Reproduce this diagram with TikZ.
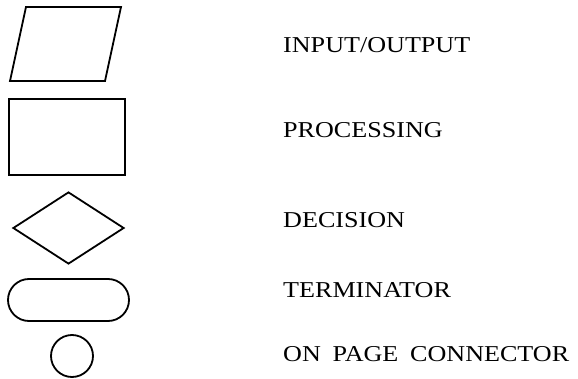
\documentclass[tikz,border=0pt]{standalone}
\usepackage{fontspec}
\setmainfont[FakeStretch=1.15,WordSpace=1.8]{Liberation Serif}
\usepackage{tikz}
\usetikzlibrary{shapes.geometric}
\usetikzlibrary{shapes.misc}
\begin{document}
\begin{tikzpicture}[x=1pt, y=1pt]
				\tikzstyle{symbolnode}=[draw=black, line width=1.8pt, fill=none, inner sep=0pt]
				\tikzstyle{labelnode}=[anchor=base west, inner sep=0pt, text=black, font=\fontsize{22.7}{27}\selectfont]
				
				\useasboundingbox (0,0) rectangle (578,378);
				
				\node (io)   at (65.5,334) [symbolnode, xslant=0.216, minimum width=95, minimum height=74] {};
				\node (proc) at (67,241)   [symbolnode, minimum width=116, minimum height=76] {};
				\node (dec)  at (68.5,150) [symbolnode, diamond, minimum width=111, minimum height=72] {};
				\node (term) at (68.5,78)  [symbolnode, rounded rectangle, minimum width=121, minimum height=42] {};
				\node (conn) at (72,22)    [symbolnode, circle, minimum size=42] {};
				
				\node (ioL)   at (283,325) [labelnode] {INPUT/OUTPUT};
				\node (procL) at (283,240) [labelnode] {PROCESSING};
				\node (decL)  at (283,151) [labelnode] {DECISION};
				\node (termL) at (283,81)  [labelnode] {TERMINATOR};
				\node (connL) at (283,17)  [labelnode] {ON PAGE CONNECTOR};
				
\end{tikzpicture}
\end{document}
